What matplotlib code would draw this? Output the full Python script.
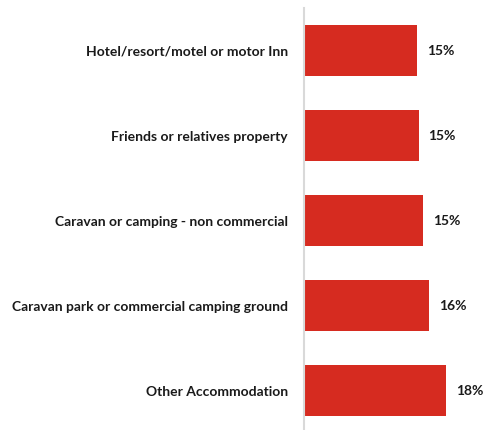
import matplotlib.pyplot as plt

# accommodation types, top to bottom
categories = ["Hotel/resort/motel or motor Inn",
              "Friends or relatives property",
              "Caravan or camping - non commercial",
              "Caravan park or commercial camping ground",
              "Other Accommodation"]
values = [14.6, 14.8, 15.4, 16.1, 18.3]
value_labels = ["15%", "15%", "15%", "16%", "18%"]

plt.rcParams['font.family'] = ['Lato', 'DejaVu Sans']

fig = plt.figure(figsize=(4.83, 4.30), dpi=100)
ax = fig.add_axes([304 / 483, -3.5 / 430, 1 - 304 / 483, 425.5 / 430])

pos = list(range(len(categories)))
ax.barh(pos, values, height=0.6, color="#d62b20")
ax.set_ylim(len(categories) - 0.5, -0.5)
ax.set_xlim(0, 23.07)

for p, v, lab in zip(pos, values, value_labels):
    ax.text(v + 1.25, p, lab, va="center", ha="left", fontsize=10,
            fontweight="bold", color="#1a1a1a")

ax.set_yticks(pos)
ax.set_yticklabels(categories, fontsize=10, fontweight="bold", color="#1a1a1a")
ax.tick_params(axis="y", length=0, pad=11.5)
ax.set_xticks([])
for side in ["top", "right", "bottom"]:
    ax.spines[side].set_visible(False)
ax.spines["left"].set_color("#d9d9d9")
ax.spines["left"].set_linewidth(1.5)

fig.savefig("out.png", dpi=100)
